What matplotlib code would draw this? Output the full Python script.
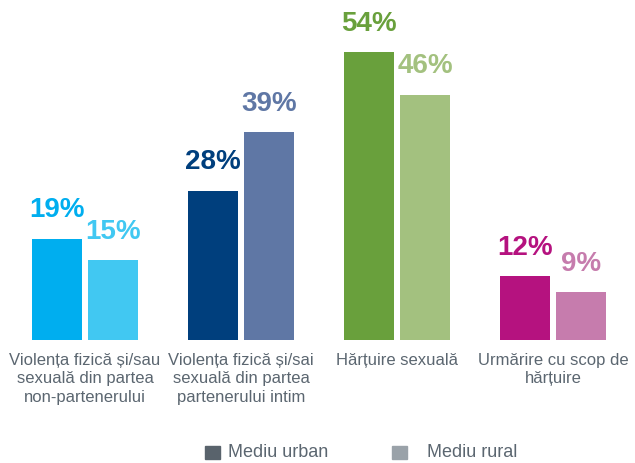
import matplotlib.pyplot as plt
from matplotlib.patches import Rectangle
from matplotlib import font_manager

categories = [
    "Violența fizică și/sau\nsexuală din partea\nnon-partenerului",
    "Violența fizică și/sai\nsexuală din partea\npartenerului intim",
    "Hărțuire sexuală",
    "Urmărire cu scop de\nhărțuire",
]
urban = [19, 28, 54, 12]
rural = [15, 39, 46, 9]
urban_colors = ["#00aeef", "#003f7d", "#69a03c", "#b5127f"]
rural_colors = ["#41c8f2", "#5f77a5", "#a3c17f", "#c67cad"]
series_names = ["Mediu urban", "Mediu rural"]

names = {f.name for f in font_manager.fontManager.ttflist}
font = "Liberation Sans Narrow" if "Liberation Sans Narrow" in names else "Liberation Sans"
plt.rcParams["font.family"] = [font, "DejaVu Sans"]

fig = plt.figure(figsize=(6.35, 4.63), dpi=100)
ax = fig.add_axes([0, 123 / 463, 1, 320 / 463])

x = list(range(len(categories)))
w = 0.32
off = 0.18
ax.bar([i - off for i in x], urban, w, color=urban_colors)
ax.bar([i + off for i in x], rural, w, color=rural_colors)

for i in x:
    ax.annotate(f"{urban[i]}%", (i - off, urban[i]), xytext=(0, 11), textcoords="offset points",
                ha="center", va="bottom", fontsize=20, fontweight="bold", color=urban_colors[i])
    ax.annotate(f"{rural[i]}%", (i + off, rural[i]), xytext=(0, 11), textcoords="offset points",
                ha="center", va="bottom", fontsize=20, fontweight="bold", color=rural_colors[i])
    ax.annotate(categories[i], (i, 0), xytext=(0, -9), textcoords="offset points",
                ha="center", va="top", fontsize=12, color="#5b6670", linespacing=1.3)

ax.set_xlim(-85 / 156, 550 / 156)
ax.set_ylim(0, 60)
ax.axis("off")

# legend
fig.patches.append(Rectangle((205 / 635, 4 / 463), 15 / 635, 13 / 463, transform=fig.transFigure,
                             color="#59636c"))
fig.patches.append(Rectangle((392 / 635, 4 / 463), 15 / 635, 13 / 463, transform=fig.transFigure,
                             color="#9aa2a9"))
fig.text(228 / 635, 2 / 463, series_names[0], fontsize=13, color="#5b6670", va="bottom")
fig.text(427 / 635, 2 / 463, series_names[1], fontsize=13, color="#5b6670", va="bottom")

fig.savefig("out.png", dpi=100)
